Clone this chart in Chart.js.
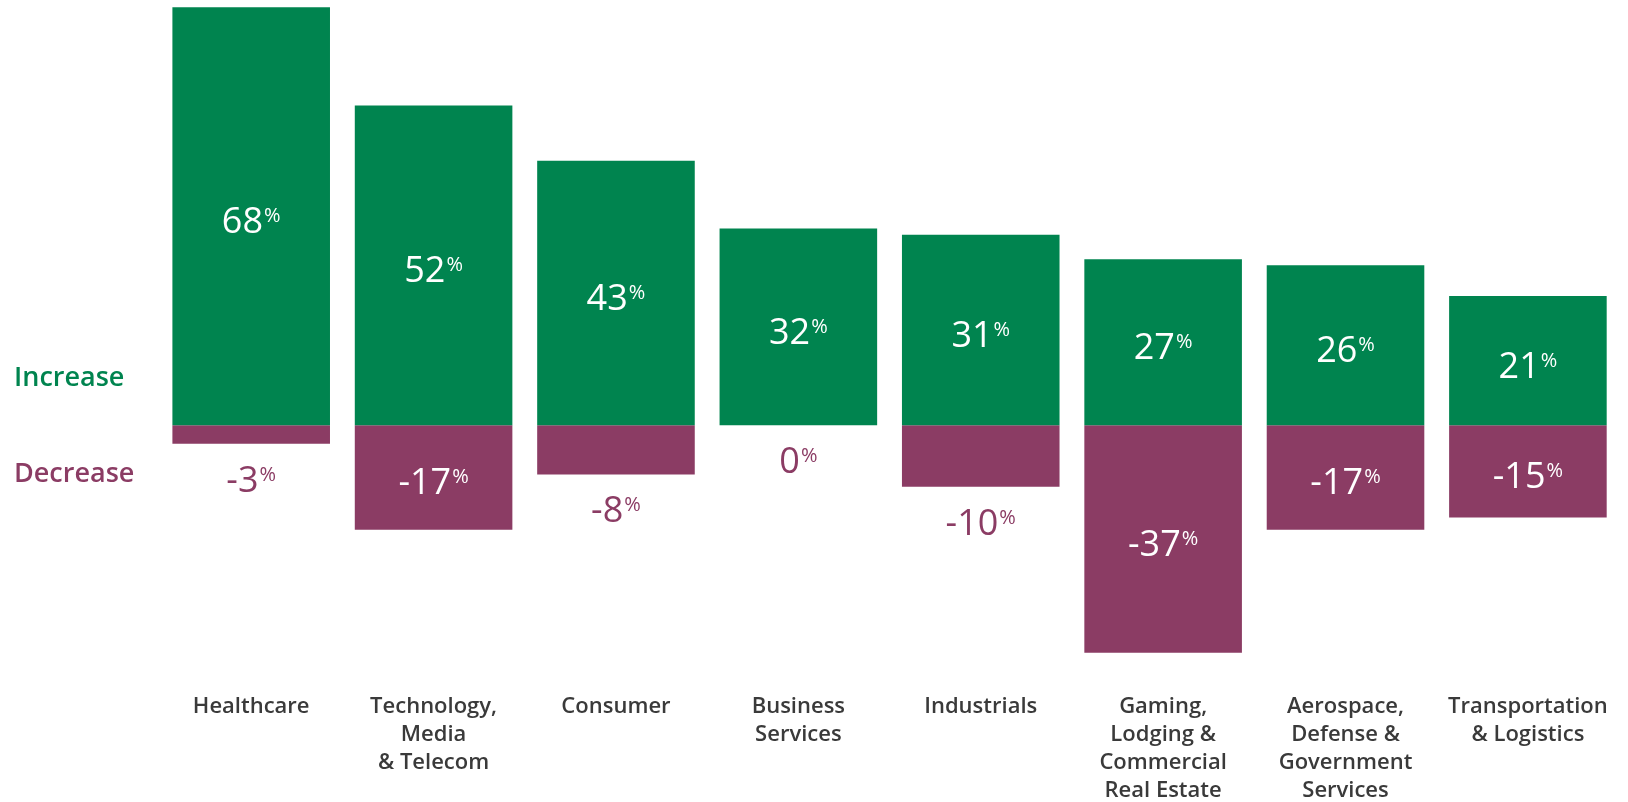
<!DOCTYPE html>
<html>
<head>
<meta charset="utf-8">
<script src="https://cdn.jsdelivr.net/npm/chart.js@4.4.1/dist/chart.umd.min.js"></script>
<style>
  html, body { margin: 0; padding: 0; background: #fff; }
  #wrap { width: 1628px; height: 802px; position: relative; }
</style>
</head>
<body>
<div id="wrap"><canvas id="sectorChart"></canvas></div>
<script>
const sectors = [
  ['Healthcare'],
  ['Technology,', 'Media', '& Telecom'],
  ['Consumer'],
  ['Business', 'Services'],
  ['Industrials'],
  ['Gaming,', 'Lodging &', 'Commercial', 'Real Estate'],
  ['Aerospace,', 'Defense &', 'Government', 'Services'],
  ['Transportation', '& Logistics']
];
const increase = [68, 52, 43, 32, 31, 27, 26, 21];
const decrease = [-3, -17, -8, 0, -10, -37, -17, -15];

const GREEN = '#00844f';
const MAROON = '#8b3c64';
const FONT = "'Open Sans', 'Noto Sans', sans-serif";

// number with a small raised percent sign, centred on cx/cy
function drawPct(ctx, v, cx, cy, color) {
  const num = String(v);
  ctx.save();
  ctx.fillStyle = color;
  ctx.textBaseline = 'alphabetic';
  ctx.textAlign = 'left';
  ctx.font = `36px ${FONT}`;
  const w1 = ctx.measureText(num).width;
  ctx.font = `20px ${FONT}`;
  const w2 = ctx.measureText('%').width;
  const x0 = cx - (w1 + w2 + 1) / 2;
  const base = cy + 13;
  ctx.font = `36px ${FONT}`;
  ctx.fillText(num, x0, base);
  ctx.font = `20px ${FONT}`;
  ctx.fillText('%', x0 + w1 + 1, base - 11);
  ctx.restore();
}

const valueLabels = {
  id: 'valueLabels',
  afterDatasetsDraw(chart) {
    const ctx = chart.ctx;
    const y = chart.scales.y;
    const zero = y.getPixelForValue(0);
    chart.data.datasets.forEach((ds, di) => {
      const meta = chart.getDatasetMeta(di);
      meta.data.forEach((bar, i) => {
        const v = ds.data[i];
        const end = y.getPixelForValue(v);
        const top = Math.min(end, zero);
        const bottom = Math.max(end, zero);
        if (Math.abs(v) > 12) {
          drawPct(ctx, v, bar.x, (top + bottom) / 2 + 4, '#fff');
        } else {
          drawPct(ctx, v, bar.x, bottom + 35, MAROON);
        }
      });
    });

    // side captions next to the zero line
    ctx.save();
    ctx.font = `600 27px ${FONT}`;
    ctx.textBaseline = 'middle';
    ctx.textAlign = 'left';
    ctx.fillStyle = GREEN;
    ctx.fillText('Increase', 14, zero - 47);
    ctx.fillStyle = MAROON;
    ctx.fillText('Decrease', 14, zero + 49);
    ctx.restore();
  }
};

new Chart(document.getElementById('sectorChart'), {
  type: 'bar',
  data: {
    labels: sectors,
    datasets: [
      { label: 'Increase', data: increase, backgroundColor: GREEN },
      { label: 'Decrease', data: decrease, backgroundColor: MAROON }
    ]
  },
  options: {
    responsive: true,
    maintainAspectRatio: false,
    animation: false,
    layout: { padding: { left: 160, right: 4, top: 1, bottom: 0 } },
    datasets: {
      bar: { categoryPercentage: 1, barPercentage: 0.864 }
    },
    plugins: {
      legend: { display: false },
      tooltip: { enabled: false }
    },
    scales: {
      x: {
        stacked: true,
        grid: { display: false },
        border: { display: false },
        ticks: {
          padding: 20,
          color: '#3a3a3a',
          font: { family: FONT, size: 22, weight: '600', lineHeight: 1.27 }
        },
        afterFit: (scale) => { scale.height = 137; }
      },
      y: {
        stacked: true,
        display: false,
        min: -39,
        max: 69
      }
    }
  },
  plugins: [valueLabels]
});
</script>
</body>
</html>
